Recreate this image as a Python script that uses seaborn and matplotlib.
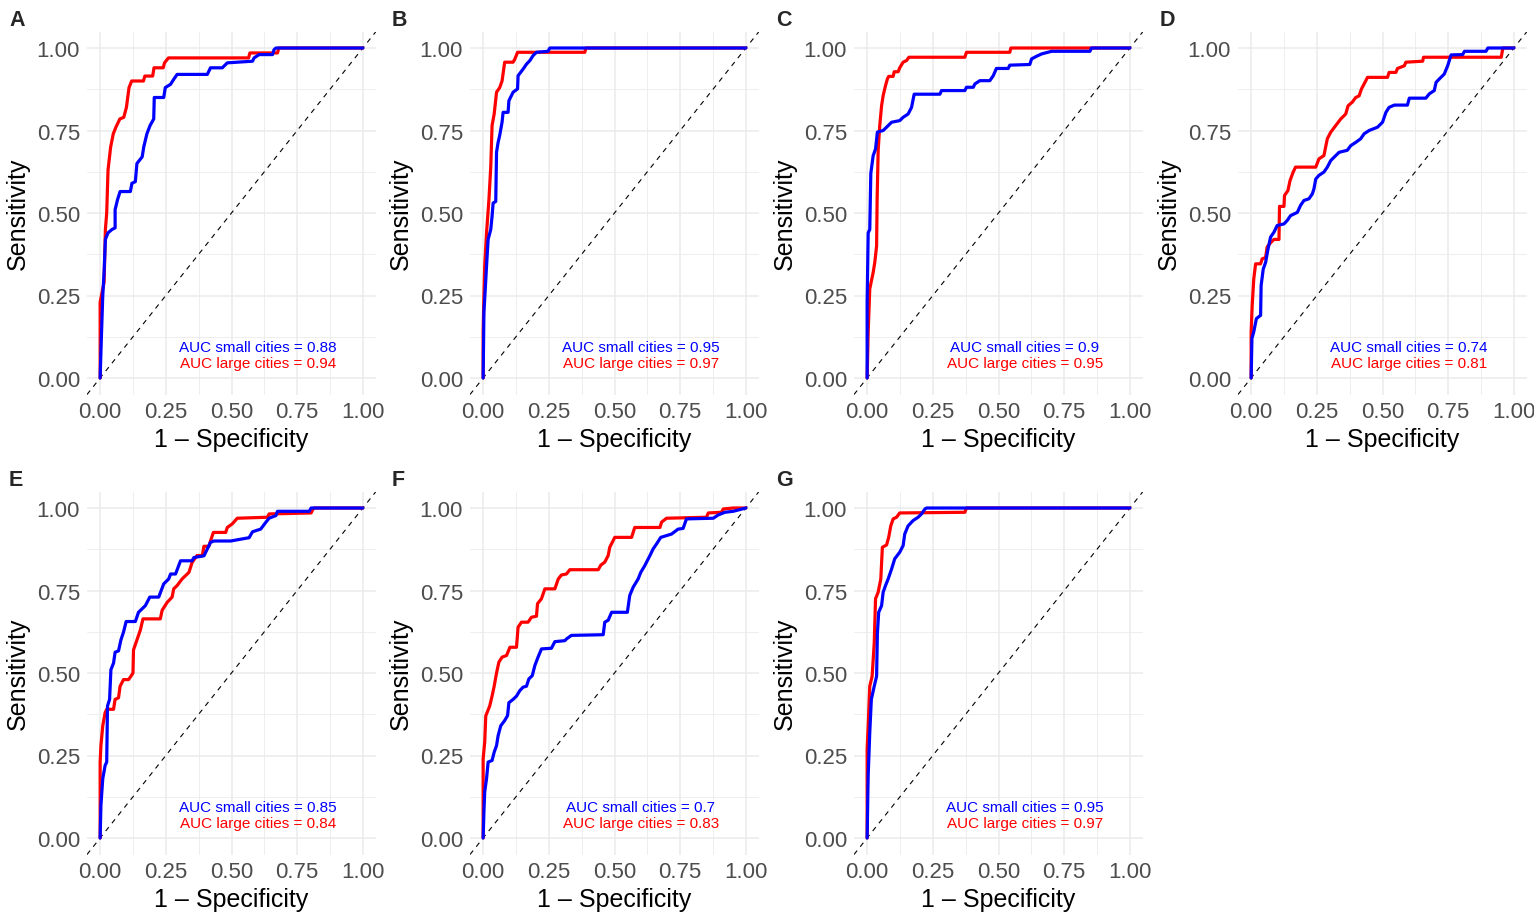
import matplotlib
matplotlib.use("Agg")
import matplotlib.pyplot as plt
import seaborn as sns
import pandas as pd

sns.set_theme(style="white")
plt.rcParams['font.family'] = ['Liberation Sans', 'DejaVu Sans']

# ---------------- data ----------------
panel_labels = ["A", "B", "C", "D", "E", "F", "G"]
auc_small = [0.88, 0.95, 0.9, 0.74, 0.85, 0.7, 0.95]
auc_large = [0.94, 0.97, 0.95, 0.81, 0.84, 0.83, 0.97]
tick_values = [0.0, 0.25, 0.5, 0.75, 1.0]
tick_labels = ["0.00", "0.25", "0.50", "0.75", "1.00"]
minor_ticks = [0.125, 0.375, 0.625, 0.875]

A_large_fpr = [0, 0, 0.015, 0.02, 0.025, 0.03, 0.04, 0.05, 0.06, 0.075, 0.09, 0.1, 0.11, 0.12, 0.165, 0.17, 0.2, 0.205, 0.24, 0.245, 0.26, 0.565, 0.57, 0.675, 0.68, 1.0]
A_large_tpr = [0, 0.23, 0.29, 0.45, 0.5, 0.63, 0.70, 0.74, 0.76, 0.785, 0.79, 0.82, 0.88, 0.90, 0.90, 0.915, 0.915, 0.94, 0.94, 0.955, 0.97, 0.97, 0.985, 0.985, 1.0, 1.0]
A_small_fpr = [0, 0.005, 0.01, 0.015, 0.02, 0.03, 0.045, 0.057, 0.057, 0.066, 0.076, 0.115, 0.121, 0.134, 0.14, 0.16, 0.166, 0.178, 0.19, 0.204, 0.206, 0.242, 0.248, 0.268, 0.28, 0.293, 0.408, 0.42, 0.465, 0.484, 0.58, 0.586, 0.605, 0.656, 0.662, 0.669, 1.0]
A_small_tpr = [0, 0.13, 0.25, 0.32, 0.42, 0.44, 0.45, 0.455, 0.51, 0.54, 0.565, 0.565, 0.59, 0.595, 0.65, 0.67, 0.70, 0.74, 0.765, 0.785, 0.85, 0.85, 0.88, 0.89, 0.905, 0.92, 0.92, 0.94, 0.94, 0.955, 0.96, 0.97, 0.98, 0.98, 0.995, 1.0, 1.0]

B_large_fpr = [0, 0.0, 0.003, 0.006, 0.013, 0.022, 0.029, 0.034, 0.042, 0.051, 0.063, 0.072, 0.082, 0.114, 0.121, 0.131, 0.387, 0.391, 1.0]
B_large_tpr = [0, 0.14, 0.25, 0.34, 0.44, 0.54, 0.64, 0.765, 0.80, 0.866, 0.88, 0.90, 0.957, 0.957, 0.967, 0.987, 0.987, 1.0, 1.0]
B_small_fpr = [0, 0.003, 0.006, 0.013, 0.019, 0.029, 0.034, 0.038, 0.048, 0.051, 0.057, 0.063, 0.072, 0.076, 0.095, 0.098, 0.114, 0.131, 0.133, 0.152, 0.165, 0.178, 0.19, 0.203, 0.247, 0.254, 1.0]
B_small_tpr = [0, 0.2, 0.24, 0.34, 0.42, 0.45, 0.49, 0.53, 0.535, 0.684, 0.714, 0.735, 0.775, 0.805, 0.805, 0.84, 0.866, 0.876, 0.916, 0.936, 0.951, 0.962, 0.977, 0.987, 0.99, 1.0, 1.0]

C_large_fpr = [0, 0.004, 0.01, 0.023, 0.029, 0.036, 0.038, 0.042, 0.048, 0.055, 0.061, 0.07, 0.077, 0.082, 0.099, 0.103, 0.118, 0.124, 0.137, 0.15, 0.159, 0.372, 0.378, 0.543, 0.547, 1.0]
C_large_tpr = [0, 0.14, 0.27, 0.32, 0.35, 0.40, 0.54, 0.69, 0.765, 0.825, 0.856, 0.886, 0.906, 0.914, 0.914, 0.928, 0.928, 0.94, 0.957, 0.962, 0.972, 0.972, 0.987, 0.987, 1.0, 1.0]
C_small_fpr = [0, 0.0, 0.004, 0.01, 0.014, 0.023, 0.032, 0.039, 0.061, 0.074, 0.093, 0.124, 0.137, 0.156, 0.169, 0.179, 0.277, 0.283, 0.372, 0.378, 0.404, 0.41, 0.429, 0.467, 0.48, 0.492, 0.537, 0.543, 0.619, 0.626, 0.645, 0.664, 0.702, 0.848, 0.854, 1.0]
C_small_tpr = [0, 0.23, 0.44, 0.45, 0.62, 0.674, 0.694, 0.745, 0.75, 0.76, 0.775, 0.78, 0.79, 0.80, 0.82, 0.86, 0.86, 0.871, 0.871, 0.881, 0.881, 0.891, 0.901, 0.901, 0.916, 0.938, 0.938, 0.948, 0.95, 0.967, 0.975, 0.982, 0.99, 0.99, 1.0, 1.0]

D_large_fpr = [0, 0.0, 0.004, 0.01, 0.017, 0.036, 0.042, 0.055, 0.061, 0.074, 0.087, 0.106, 0.108, 0.125, 0.127, 0.14, 0.148, 0.16, 0.169, 0.246, 0.258, 0.277, 0.29, 0.303, 0.322, 0.341, 0.36, 0.369, 0.385, 0.398, 0.411, 0.42, 0.43, 0.443, 0.519, 0.525, 0.551, 0.557, 0.583, 0.589, 0.653, 0.656, 0.952, 0.958, 1.0]
D_large_tpr = [0, 0.14, 0.22, 0.30, 0.346, 0.346, 0.361, 0.365, 0.397, 0.41, 0.42, 0.42, 0.52, 0.52, 0.553, 0.568, 0.598, 0.624, 0.639, 0.639, 0.664, 0.674, 0.725, 0.745, 0.765, 0.785, 0.80, 0.825, 0.836, 0.85, 0.855, 0.876, 0.891, 0.911, 0.911, 0.926, 0.926, 0.938, 0.946, 0.957, 0.96, 0.972, 0.972, 1.0, 1.0]
D_small_fpr = [0, 0.003, 0.01, 0.02, 0.036, 0.038, 0.046, 0.055, 0.064, 0.074, 0.087, 0.099, 0.125, 0.137, 0.15, 0.176, 0.188, 0.201, 0.22, 0.233, 0.239, 0.246, 0.258, 0.277, 0.29, 0.303, 0.322, 0.335, 0.366, 0.379, 0.398, 0.417, 0.43, 0.449, 0.481, 0.5, 0.513, 0.525, 0.545, 0.595, 0.602, 0.665, 0.678, 0.697, 0.704, 0.716, 0.735, 0.748, 0.761, 0.805, 0.812, 0.894, 0.901, 1.0]
D_small_tpr = [0, 0.12, 0.14, 0.18, 0.19, 0.28, 0.33, 0.35, 0.39, 0.427, 0.442, 0.462, 0.467, 0.477, 0.492, 0.502, 0.523, 0.538, 0.543, 0.558, 0.573, 0.603, 0.614, 0.624, 0.639, 0.659, 0.674, 0.684, 0.69, 0.704, 0.714, 0.725, 0.74, 0.75, 0.76, 0.775, 0.805, 0.82, 0.827, 0.827, 0.848, 0.848, 0.861, 0.871, 0.896, 0.906, 0.921, 0.946, 0.979, 0.98, 0.99, 0.99, 1.0, 1.0]

E_large_fpr = [0, 0.0, 0.003, 0.01, 0.019, 0.025, 0.051, 0.057, 0.07, 0.076, 0.089, 0.108, 0.117, 0.125, 0.127, 0.14, 0.153, 0.163, 0.229, 0.236, 0.255, 0.274, 0.28, 0.293, 0.312, 0.338, 0.35, 0.369, 0.389, 0.395, 0.414, 0.42, 0.431, 0.478, 0.484, 0.503, 0.522, 0.637, 0.643, 0.803, 0.809, 0.815, 1.0]
E_large_tpr = [0, 0.23, 0.28, 0.34, 0.38, 0.39, 0.39, 0.42, 0.425, 0.46, 0.48, 0.48, 0.49, 0.50, 0.57, 0.60, 0.63, 0.664, 0.664, 0.69, 0.714, 0.73, 0.755, 0.765, 0.785, 0.805, 0.835, 0.856, 0.856, 0.884, 0.884, 0.90, 0.926, 0.926, 0.941, 0.952, 0.969, 0.972, 0.982, 0.985, 0.995, 1.0, 1.0]
E_small_fpr = [0, 0.003, 0.01, 0.019, 0.025, 0.028, 0.036, 0.041, 0.051, 0.057, 0.07, 0.079, 0.089, 0.099, 0.134, 0.146, 0.159, 0.172, 0.189, 0.223, 0.242, 0.261, 0.268, 0.287, 0.306, 0.35, 0.357, 0.395, 0.408, 0.42, 0.433, 0.497, 0.567, 0.58, 0.611, 0.631, 0.643, 0.669, 0.675, 0.796, 0.803, 1.0]
E_small_tpr = [0, 0.1, 0.18, 0.22, 0.23, 0.40, 0.42, 0.51, 0.53, 0.563, 0.567, 0.60, 0.624, 0.656, 0.656, 0.684, 0.694, 0.704, 0.73, 0.73, 0.77, 0.785, 0.80, 0.80, 0.84, 0.84, 0.85, 0.855, 0.876, 0.896, 0.90, 0.90, 0.91, 0.928, 0.936, 0.957, 0.969, 0.977, 0.99, 0.99, 1.0, 1.0]

F_large_fpr = [0, 0.0, 0.006, 0.01, 0.025, 0.034, 0.042, 0.051, 0.06, 0.072, 0.089, 0.102, 0.127, 0.133, 0.146, 0.171, 0.184, 0.203, 0.207, 0.222, 0.235, 0.273, 0.286, 0.298, 0.317, 0.33, 0.438, 0.448, 0.463, 0.476, 0.482, 0.501, 0.565, 0.577, 0.673, 0.679, 0.698, 0.85, 0.857, 0.907, 0.914, 0.952, 1.0]
F_large_tpr = [0, 0.24, 0.29, 0.37, 0.40, 0.43, 0.46, 0.50, 0.533, 0.548, 0.553, 0.578, 0.578, 0.639, 0.654, 0.654, 0.669, 0.672, 0.71, 0.725, 0.755, 0.755, 0.785, 0.797, 0.80, 0.813, 0.813, 0.827, 0.836, 0.856, 0.881, 0.911, 0.911, 0.941, 0.941, 0.957, 0.969, 0.972, 0.985, 0.987, 0.997, 1.0, 1.0]
F_small_fpr = [0, 0.003, 0.006, 0.013, 0.019, 0.034, 0.042, 0.051, 0.057, 0.067, 0.082, 0.093, 0.098, 0.114, 0.127, 0.14, 0.152, 0.165, 0.174, 0.187, 0.197, 0.209, 0.222, 0.26, 0.273, 0.311, 0.317, 0.336, 0.457, 0.463, 0.476, 0.489, 0.549, 0.558, 0.571, 0.59, 0.6, 0.615, 0.635, 0.647, 0.66, 0.676, 0.717, 0.742, 0.761, 0.774, 0.876, 0.895, 0.92, 0.952, 1.0]
F_small_tpr = [0, 0.08, 0.14, 0.18, 0.23, 0.235, 0.26, 0.28, 0.31, 0.34, 0.356, 0.371, 0.41, 0.42, 0.43, 0.447, 0.457, 0.46, 0.482, 0.492, 0.523, 0.548, 0.573, 0.575, 0.595, 0.598, 0.603, 0.614, 0.616, 0.654, 0.66, 0.684, 0.684, 0.735, 0.76, 0.785, 0.805, 0.825, 0.856, 0.876, 0.891, 0.911, 0.921, 0.936, 0.938, 0.967, 0.969, 0.979, 0.987, 0.99, 1.0]

G_large_fpr = [0, 0.0, 0.004, 0.01, 0.019, 0.027, 0.032, 0.042, 0.052, 0.058, 0.074, 0.082, 0.09, 0.099, 0.112, 0.124, 0.372, 0.378, 1.0]
G_large_tpr = [0, 0.27, 0.34, 0.46, 0.49, 0.59, 0.725, 0.745, 0.785, 0.881, 0.888, 0.911, 0.946, 0.967, 0.972, 0.985, 0.987, 1.0, 1.0]
G_small_fpr = [0, 0.003, 0.004, 0.01, 0.016, 0.027, 0.036, 0.039, 0.044, 0.055, 0.061, 0.07, 0.08, 0.093, 0.105, 0.124, 0.137, 0.143, 0.156, 0.175, 0.194, 0.207, 0.22, 0.226, 1.0]
G_small_tpr = [0, 0.15, 0.19, 0.32, 0.42, 0.46, 0.49, 0.62, 0.684, 0.704, 0.745, 0.765, 0.785, 0.815, 0.846, 0.866, 0.886, 0.921, 0.946, 0.962, 0.972, 0.982, 0.997, 1.0, 1.0]

curves = {
    "A": (A_small_fpr, A_small_tpr, A_large_fpr, A_large_tpr),
    "B": (B_small_fpr, B_small_tpr, B_large_fpr, B_large_tpr),
    "C": (C_small_fpr, C_small_tpr, C_large_fpr, C_large_tpr),
    "D": (D_small_fpr, D_small_tpr, D_large_fpr, D_large_tpr),
    "E": (E_small_fpr, E_small_tpr, E_large_fpr, E_large_tpr),
    "F": (F_small_fpr, F_small_tpr, F_large_fpr, F_large_tpr),
    "G": (G_small_fpr, G_small_tpr, G_large_fpr, G_large_tpr),
}

# ---------------- layout ----------------
W, H = 1534, 920
fig = plt.figure(figsize=(W / 100, H / 100), dpi=100)
col_left = [87, 470, 854, 1238]
row_top = [32.5, 492.5]
pw, ph = 289, 363
letter_x = [9, 392, 776, 1160]
letter_base = [26, 486]

for i, lab in enumerate(panel_labels):
    r, c = divmod(i, 4)
    ax = fig.add_axes([col_left[c] / W, 1 - (row_top[r] + ph) / H, pw / W, ph / H])
    sf, st, lf, lt = curves[lab]
    df = pd.concat([
        pd.DataFrame({"fpr": lf, "tpr": lt, "group": "large"}),
        pd.DataFrame({"fpr": sf, "tpr": st, "group": "small"}),
    ], ignore_index=True)
    ax.plot([-0.05, 1.05], [-0.05, 1.05], color="black", lw=0.8, dashes=(4.5, 4.5), zorder=1)
    sns.lineplot(data=df, x="fpr", y="tpr", hue="group", hue_order=["large", "small"],
                 palette={"large": "#FF0000", "small": "#0000FF"},
                 sort=False, estimator=None, lw=2.3, legend=False, ax=ax, zorder=3)
    ax.set_xlim(-0.05, 1.05)
    ax.set_ylim(-0.05, 1.05)
    ax.set_xticks(tick_values)
    ax.set_xticklabels(tick_labels)
    ax.set_yticks(tick_values)
    ax.set_yticklabels(tick_labels)
    ax.set_xticks(minor_ticks, minor=True)
    ax.set_yticks(minor_ticks, minor=True)
    ax.grid(which="major", color="#EBEBEB", lw=1.1)
    ax.grid(which="minor", color="#EBEBEB", lw=0.6)
    ax.set_axisbelow(True)
    ax.tick_params(which="both", length=0, pad=5, labelsize=16, labelcolor="#4D4D4D")
    for s in ax.spines.values():
        s.set_visible(False)
    ax.set_facecolor("white")
    ax.set_xlabel("1 \u2013 Specificity", fontsize=18, color="black", labelpad=3)
    ax.set_ylabel("Sensitivity", fontsize=18, color="black", labelpad=5)
    ax.text(0.6, 0.082, f"AUC small cities = {auc_small[i]}", color="#0000FF",
            ha="center", va="baseline", fontsize=11)
    ax.text(0.6, 0.033, f"AUC large cities = {auc_large[i]}", color="#FF0000",
            ha="center", va="baseline", fontsize=11)
    fig.text(letter_x[c] / W, 1 - letter_base[r] / H, lab, fontsize=15.5,
             fontweight="bold", ha="left", va="baseline")

fig.savefig("out.png", dpi=100, facecolor="white")
